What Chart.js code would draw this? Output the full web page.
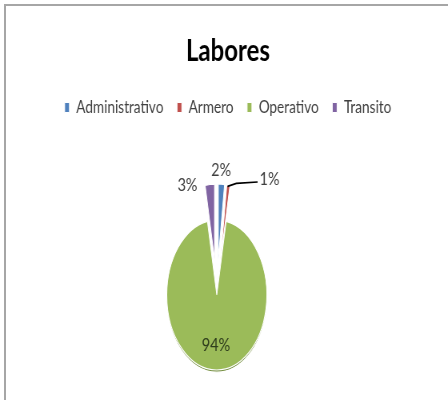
<!DOCTYPE html>
<html>
<head>
<meta charset="utf-8">
<script src="https://cdn.jsdelivr.net/npm/chart.js@4/dist/chart.umd.min.js"></script>
<style>
  body { margin: 0; background: #fff; overflow: hidden; }
  #frame { position: absolute; left: 4px; top: 4px; width: 444px; height: 396px;
           border-left: 2px solid #a6a6a6; border-top: 2px solid #a6a6a6; box-sizing: border-box; }
  /* the original picture is squeezed sideways, so draw wide and squeeze */
  #wrap { position: absolute; left: 0; top: 0; width: 560px; height: 400px;
          transform: scaleX(0.8); transform-origin: 0 0; }
</style>
</head>
<body>
<div id="frame"></div>
<div id="wrap"><canvas id="pieChart" width="560" height="400"></canvas></div>
<script>
const CATEGORIES = ['Administrativo', 'Armero', 'Operativo', 'Transito'];
const VALUES = [2, 1, 94, 3];
const COLORS = ['#4F81BD', '#C0504D', '#9BBB59', '#8064A2'];

const FONT = "Lato, 'Open Sans', sans-serif";

// pie drawn as a tall ellipse like the tilted excel one (canvas units)
const tilt = { cx: 271, cy: 295, scaleY: 1.2 };
const explode = [30, 30, 0, 30];
// label placement: inside/outside and small nudges
const labelStyle = [
  { inside: false, dx: -1, dy: -2 },
  { inside: false, dx: 50, dy: 5.5, leader: true },
  { inside: true, dx: -1, dy: 0 },
  { inside: false, dx: -27, dy: 12.6 }
];

function toScreen(arc, x, y) {
  return { x: tilt.cx + (x - arc.x), y: tilt.cy + (y - arc.y) * tilt.scaleY };
}

const pieTilt = {
  id: 'pieTilt',
  beforeDatasetsDraw(chart) {
    const arcs = chart.getDatasetMeta(0).data;
    const ctx = chart.ctx;
    ctx.save();
    ctx.translate(tilt.cx, tilt.cy);
    ctx.scale(1, tilt.scaleY);
    ctx.translate(-arcs[0].x, -arcs[0].y);
    // darker rim under the big slice
    const big = arcs[2];
    const o = big.options;
    const bg = o.backgroundColor;
    ctx.save();
    ctx.translate(0, 2.2 / tilt.scaleY);
    o.backgroundColor = '#6f8a38';
    big.draw(ctx);
    o.backgroundColor = bg;
    ctx.restore();
    arcs.forEach(function(arc, i) {
      const mid = (arc.startAngle + arc.endAngle) / 2;
      ctx.save();
      ctx.translate(Math.cos(mid) * explode[i], Math.sin(mid) * explode[i]);
      arc.draw(ctx);
      ctx.restore();
    });
    ctx.restore();
    return false;
  }
};

const pieLabels = {
  id: 'pieLabels',
  afterDraw(chart) {
    const ctx = chart.ctx;
    const arcs = chart.getDatasetMeta(0).data;
    ctx.save();
    ctx.textAlign = 'center';
    ctx.textBaseline = 'middle';
    arcs.forEach(function(arc, i) {
      const st = labelStyle[i];
      const mid = (arc.startAngle + arc.endAngle) / 2;
      const off = explode[i];
      const rad = st.inside ? arc.outerRadius * 0.67 : arc.outerRadius + off + 10;
      const p = toScreen(arc, arc.x + Math.cos(mid) * rad, arc.y + Math.sin(mid) * rad);
      const lx = p.x + st.dx, ly = p.y + st.dy;
      if (st.leader) {
        const e = toScreen(arc, arc.x + Math.cos(mid) * (arc.outerRadius + off),
                               arc.y + Math.sin(mid) * (arc.outerRadius + off));
        ctx.strokeStyle = '#000';
        ctx.lineWidth = 1.6;
        ctx.beginPath();
        ctx.moveTo(e.x - 1, e.y + 1);
        ctx.lineTo(e.x + 10, e.y - 2);
        ctx.lineTo(lx - 15, ly + 3);
        ctx.stroke();
      }
      ctx.fillStyle = st.inside ? '#2e3d1c' : '#404040';
      ctx.font = '18px ' + FONT;
      ctx.fillText(VALUES[i] + '%', lx, ly);
    });
    ctx.restore();
  }
};

const CHART = document.getElementById('pieChart');

let pieChart = new Chart(CHART, {
  type: 'pie',
  data: {
    labels: CATEGORIES,
    datasets: [{
      data: VALUES,
      backgroundColor: COLORS,
      borderColor: '#ffffff',
      borderWidth: 1,
      radius: 62.5
    }]
  },
  options: {
    responsive: false,
    animation: false,
    layout: { padding: { left: 10 } },
    plugins: {
      title: {
        display: true,
        text: 'Labores',
        color: '#000',
        font: { family: FONT, size: 30, weight: 'bold' },
        padding: { top: 33, bottom: 13 }
      },
      legend: {
        position: 'top',
        labels: {
          color: '#404040',
          font: { family: FONT, size: 17 },
          boxWidth: 6,
          boxHeight: 10,
          padding: 17
        }
      },
      tooltip: { enabled: false }
    }
  },
  plugins: [pieTilt, pieLabels]
});
</script>
</body>
</html>
